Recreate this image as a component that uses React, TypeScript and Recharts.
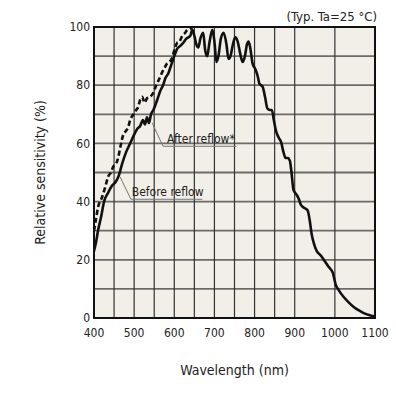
import React from "react";
import {
  ComposedChart,
  Line,
  XAxis,
  YAxis,
  CartesianGrid,
  ReferenceArea,
  ReferenceLine,
  ReferenceDot,
} from "recharts";

// Wavelength ticks (grid every 50 nm, labels every 100 nm)
const xTicks = [400, 450, 500, 550, 600, 650, 700, 750, 800, 850, 900, 950, 1000, 1050, 1100];
// Sensitivity ticks (grid every 10 %, labels every 20 %)
const yTicks = [0, 10, 20, 30, 40, 50, 60, 70, 80, 90, 100];

// After reflow (solid)
const afterWl = [
  400, 405, 410, 418, 425, 435, 445, 455, 462, 470, 480, 490, 500, 508, 515, 522, 527, 532, 537, 542,
  548, 555, 560, 565, 572, 578, 585, 590, 595, 600, 607, 615, 622, 630, 640, 645, 650, 655, 660, 665,
  672, 677, 682, 688, 695, 700, 705, 710, 716, 723, 730, 735, 740, 746, 752, 758, 764, 770, 776, 781,
  785, 789, 795, 802, 808, 812, 820, 826, 832, 838, 843, 848, 853, 860, 866, 872, 877, 883, 888, 892,
  897, 904, 910, 915, 922, 932, 938, 942, 947, 955, 965, 975, 985, 995, 1002, 1010, 1022, 1035, 1047,
  1060, 1072, 1085, 1100,
];
const afterVal = [
  23, 26, 30, 35, 40, 43, 45.5, 47, 49, 53, 57, 60, 63, 65, 66, 68, 66.5, 69, 67, 70,
  71.5, 74, 76, 78, 80, 82.5, 84, 86, 88, 90, 92.5, 93.5, 94.5, 96, 97, 99, 97, 94, 93, 96,
  98, 92, 90, 95, 99, 95, 88, 90, 96, 98, 94, 89, 90, 94, 96.5, 95, 91, 88, 90, 94,
  95, 93, 87.5, 85.5, 83, 80.5, 79.5, 76, 72, 71.5, 71.5, 68, 64.5, 62, 60.5, 57, 55, 55, 54, 50,
  44, 42.5, 41, 39, 38, 37, 33, 29, 26, 23, 21.5, 19.5, 17.5, 15.5, 11.5, 9.5, 7.2, 5.3, 3.8,
  2.6, 1.7, 1, 0.5,
];

// Before reflow (dashed)
const beforeWl = [
  400, 405, 410, 420, 428, 435, 442, 448, 455, 460, 466, 473, 478, 485, 490, 498, 505, 510, 515, 520,
  526, 532, 540, 548, 555, 562, 570, 576, 582, 588, 595, 600, 607, 613, 620, 627, 632, 640, 645,
];
const beforeVal = [
  30, 34, 38, 41.5, 45, 48.5, 50, 52, 53, 55, 59, 63, 64, 65.5, 68, 70, 71.5, 72.5, 75, 76,
  74, 75.5, 76, 77.5, 80, 82, 84.5, 86, 87.5, 88, 89.5, 92, 94.5, 95, 97, 98, 99, 99.5, 100,
];

const afterData = afterWl.map((wl, i) => ({ wl, v: afterVal[i] }));
const beforeData = beforeWl.map((wl, i) => ({ wl, v: beforeVal[i] }));

const font = '"DejaVu Sans Condensed", "DejaVu Sans", sans-serif';
const textColor = "#222";
const leaderColor = "#777";

export default function App() {
  return (
    <div style={{ position: "absolute", left: 0, top: 0, width: 396, height: 396, background: "#fff", fontFamily: font }}>
      <div
        style={{
          position: "absolute",
          right: 19,
          top: 9,
          fontSize: 13,
          color: textColor,
          fontFamily: font,
        }}
      >
        (Typ. Ta=25 °C)
      </div>
      <ComposedChart
        width={396}
        height={396}
        margin={{ top: 27, right: 21, left: 0, bottom: 0 }}
      >
        <CartesianGrid fill="#f1efe7" vertical={false} stroke="#6b6b6b" strokeWidth={1.8} />
        <CartesianGrid horizontal={false} stroke="#333" strokeWidth={1.2} />
        <XAxis
          dataKey="wl"
          type="number"
          domain={[400, 1100]}
          ticks={xTicks}
          allowDataOverflow
          height={78}
          axisLine={false}
          tickLine={false}
          tickSize={0}
          tickMargin={10}
          tick={{ fill: textColor, fontSize: 12, fontFamily: font }}
          tickFormatter={(v: number) => (v % 100 === 0 ? String(v) : "")}
          label={(props: any) => {
            const vb = props.viewBox;
            return (
              <text
                x={vb.x + vb.width / 2}
                y={vb.y + 57}
                textAnchor="middle"
                fill={textColor}
                fontSize={14}
                fontFamily={font}
              >
                Wavelength (nm)
              </text>
            );
          }}
        />
        <YAxis
          type="number"
          domain={[0, 100]}
          ticks={yTicks}
          allowDataOverflow
          width={94}
          axisLine={false}
          tickLine={false}
          tickSize={0}
          tickMargin={4}
          tick={{ fill: textColor, fontSize: 12, fontFamily: font }}
          tickFormatter={(v: number) => (v % 20 === 0 ? String(v) : "")}
          label={(props: any) => {
            const vb = props.viewBox;
            const cx = vb.x + 45;
            const cy = vb.y + vb.height / 2;
            return (
              <text
                x={cx}
                y={cy}
                transform={`rotate(-90, ${cx}, ${cy})`}
                textAnchor="middle"
                fill={textColor}
                fontSize={14}
                fontFamily={font}
              >
                Relative sensitivity (%)
              </text>
            );
          }}
        />
        <ReferenceArea x1={400} x2={1100} y1={0} y2={100} fill="none" stroke="#111" strokeWidth={2} />

        {/* leader lines */}
        <ReferenceLine segment={[{ x: 545, y: 67 }, { x: 572, y: 59 }]} stroke={leaderColor} strokeWidth={1} />
        <ReferenceLine segment={[{ x: 572, y: 59 }, { x: 755, y: 59 }]} stroke={leaderColor} strokeWidth={1} />
        <ReferenceLine segment={[{ x: 465, y: 48.5 }, { x: 492, y: 40.8 }]} stroke={leaderColor} strokeWidth={1} />
        <ReferenceLine segment={[{ x: 492, y: 40.8 }, { x: 670, y: 40.8 }]} stroke={leaderColor} strokeWidth={1} />

        <Line
          data={beforeData}
          dataKey="v"
          type="monotone"
          stroke="#111"
          strokeWidth={2.6}
          strokeDasharray="5 3"
          dot={false}
          isAnimationActive={false}
        />
        <Line
          data={afterData}
          dataKey="v"
          type="monotone"
          stroke="#111"
          strokeWidth={2.6}
          dot={false}
          isAnimationActive={false}
        />

        <ReferenceDot
          x={582}
          y={61.5}
          r={0}
          fill="none"
          stroke="none"
          label={{ value: "After reflow*", position: "right", offset: 0, fill: textColor, fontSize: 12, fontFamily: font }}
        />
        <ReferenceDot
          x={494}
          y={43.5}
          r={0}
          fill="none"
          stroke="none"
          label={{ value: "Before reflow", position: "right", offset: 0, fill: textColor, fontSize: 12, fontFamily: font }}
        />
      </ComposedChart>
    </div>
  );
}
